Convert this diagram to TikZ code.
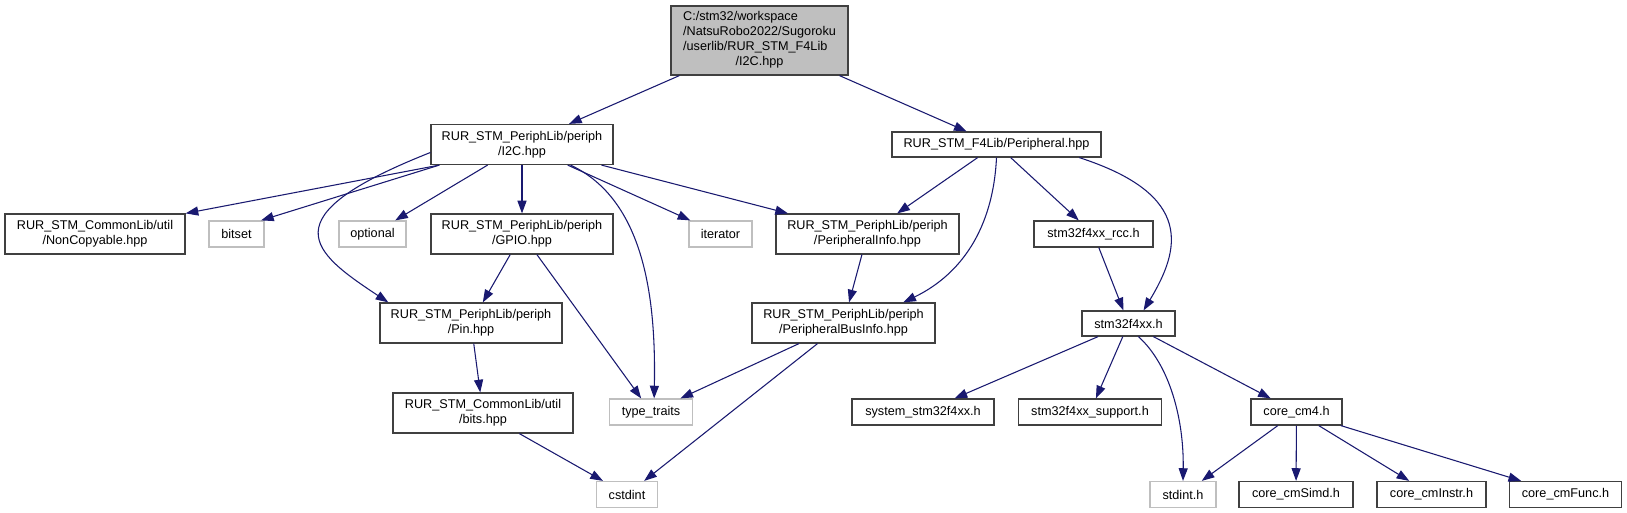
\documentclass[tikz,border=0pt]{standalone}
\usepackage{fontspec}
\setmainfont{Liberation Sans}
\usetikzlibrary{arrows.meta}
\definecolor{incblue}{HTML}{191970}
\definecolor{boxgray}{HTML}{404040}
\definecolor{sysgray}{HTML}{BFBFBF}

\begin{document}
\begin{tikzpicture}[
  x=0.75pt, y=-0.75pt,
  font=\fontsize{9.5}{11.25}\selectfont,
  incfile/.style={draw=boxgray, line width=0.9pt, fill=white, inner sep=0pt,
    minimum height=19.5pt, align=center},
  sysfile/.style={incfile, draw=sysgray},
  twoline/.style={minimum height=30pt},
  wd/.style={minimum width=#1*0.75pt},
  incflow/.style={-{Triangle[length=9.5pt, width=6.8pt]}, line width=0.8pt, draw=incblue},
]
  \path[use as bounding box, fill=white] (0,0) rectangle (1627,513);

  \node[incfile, wd=177, minimum height=51.75pt, fill=sysgray] (root) at (759.5,40.5) {%
    \begin{tabular}{@{}l@{}}C:/stm32/workspace\\/NatsuRobo2022/Sugoroku\\
    /userlib/RUR\_STM\_F4Lib\\\multicolumn{1}{@{}c@{}}{/I2C.hpp}\end{tabular}};

  \node[incfile, wd=182, twoline] (i2cperiph) at (522,144.5) {RUR\_STM\_PeriphLib/periph\\/I2C.hpp};
  \node[incfile, wd=209, minimum height=18.75pt] (peripheral) at (996.5,144.5) {RUR\_STM\_F4Lib/Peripheral.hpp};

  \node[incfile, wd=180, twoline] (noncopyable) at (95,234) {RUR\_STM\_CommonLib/util\\/NonCopyable.hpp};
  \node[sysfile, wd=55] (bitset) at (236.5,234) {bitset};
  \node[sysfile, wd=67] (optional) at (372.5,234) {optional};
  \node[incfile, wd=182, twoline] (gpio) at (522,234) {RUR\_STM\_PeriphLib/periph\\/GPIO.hpp};
  \node[sysfile, wd=63] (iterator) at (720.5,234) {iterator};
  \node[incfile, wd=183, twoline] (periphinfo) at (867.5,234) {RUR\_STM\_PeriphLib/periph\\/PeripheralInfo.hpp};
  \node[incfile, wd=119] (rcc) at (1093.5,234) {stm32f4xx\_rcc.h};

  \node[incfile, wd=182, twoline] (pin) at (471,323) {RUR\_STM\_PeriphLib/periph\\/Pin.hpp};
  \node[incfile, wd=183, twoline] (businfo) at (843.5,323) {RUR\_STM\_PeriphLib/periph\\/PeripheralBusInfo.hpp};
  \node[incfile, wd=93, minimum height=18.75pt] (stm) at (1128.5,323.5) {stm32f4xx.h};

  \node[incfile, wd=180, twoline] (bits) at (483,413) {RUR\_STM\_CommonLib/util\\/bits.hpp};
  \node[sysfile, wd=82.5] (typetraits) at (651,412) {type\_traits};
  \node[incfile, wd=142] (system) at (923,412) {system\_stm32f4xx.h};
  \node[incfile, wd=143.5] (support) at (1090,412) {stm32f4xx\_support.h};
  \node[incfile, wd=91] (cm4) at (1296.5,412) {core\_cm4.h};

  \node[sysfile, wd=61] (cstdint) at (627,494.5) {cstdint};
  \node[sysfile, wd=66] (stdint) at (1183,494.5) {stdint.h};
  \node[incfile, wd=114] (cmsimd) at (1296,494.5) {core\_cmSimd.h};
  \node[incfile, wd=109] (cminstr) at (1431.5,494.5) {core\_cmInstr.h};
  \node[incfile, wd=112.5] (cmfunc) at (1565.5,494.5) {core\_cmFunc.h};

  \draw[incflow] (root) -- (i2cperiph);
  \draw[incflow] (root) -- (peripheral);
  \draw[incflow] (i2cperiph.194) -- (noncopyable.north east);
  \draw[incflow] (i2cperiph.194) -- (bitset.29);
  \draw[incflow] (i2cperiph) -- (optional);
  \draw[incflow] (i2cperiph) -- (gpio);
  \draw[incflow] (i2cperiph) -- (iterator);
  \draw[incflow] (i2cperiph) -- (periphinfo);
  \draw[incflow] (i2cperiph.185) .. controls (267,217) and (312,252) .. (pin.166);
  \draw[incflow] (i2cperiph.337) .. controls (645,200) and (656,300) .. (typetraits.77);
  \draw[incflow] (gpio) -- (pin);
  \draw[incflow] (gpio) -- (typetraits);
  \draw[incflow] (pin) -- (bits);
  \draw[incflow] (bits) -- (cstdint);
  \draw[incflow] (periphinfo) -- (businfo);
  \draw[incflow] (businfo) -- (typetraits);
  \draw[incflow] (businfo) -- (cstdint);
  \draw[incflow] (peripheral) -- (periphinfo);
  \draw[incflow] (peripheral.south) .. controls (993,230) and (960,275) .. (businfo.19);
  \draw[incflow] (peripheral) -- (rcc);
  \draw[incflow] (peripheral.351) .. controls (1195,195) and (1180,250) .. (stm.41);
  \draw[incflow] (rcc) -- (stm);
  \draw[incflow] (stm) -- (system);
  \draw[incflow] (stm) -- (support);
  \draw[incflow] (stm.307) .. controls (1170,365) and (1184,420) .. (stdint.north);
  \draw[incflow] (stm) -- (cm4);
  \draw[incflow] (cm4) -- (stdint);
  \draw[incflow] (cm4) -- (cmsimd);
  \draw[incflow] (cm4) -- (cminstr);
  \draw[incflow] (cm4) -- (cmfunc);
\end{tikzpicture}
\end{document}
